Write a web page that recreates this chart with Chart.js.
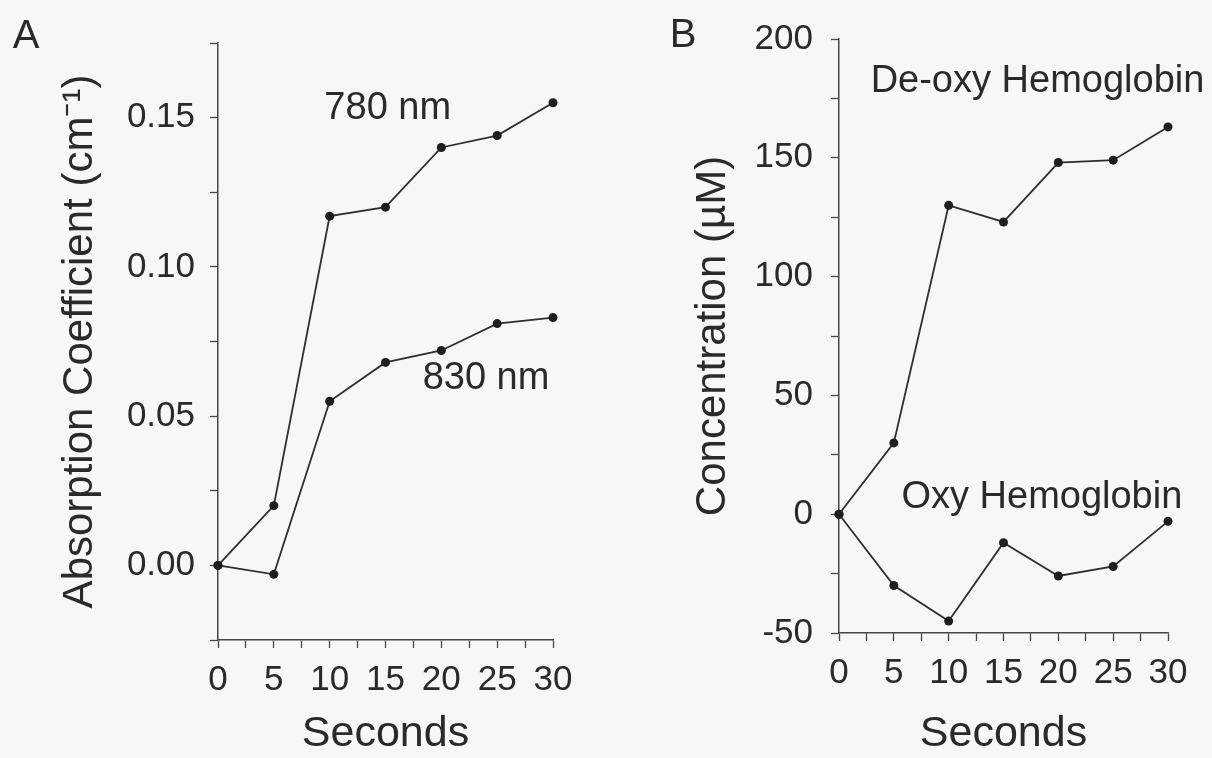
<!DOCTYPE html>
<html>
<head>
<meta charset="utf-8">
<script src="https://cdn.jsdelivr.net/npm/chart.js@4.4.1/dist/chart.umd.min.js"></script>
<style>
  html, body { margin: 0; padding: 0; background: #f7f7f5; }
  #wrap { position: relative; width: 1212px; height: 758px; }
  canvas { position: absolute; top: 0; }
  #chartA { left: 0; }
  #chartB { left: 606px; }
</style>
</head>
<body>
<div id="wrap">
  <canvas id="chartA" width="606" height="758"></canvas>
  <canvas id="chartB" width="606" height="758"></canvas>
</div>
<script>
// data
const seconds = [0, 5, 10, 15, 20, 25, 30];
const abs780 = [0, 0.020, 0.117, 0.120, 0.140, 0.144, 0.155];
const abs830 = [0, -0.003, 0.055, 0.068, 0.072, 0.081, 0.083];
const deoxyHb = [0, 30, 130, 123, 148, 149, 163];
const oxyHb = [0, -30, -45, -12, -26, -22, -3];

const xTickLabels = ['0', '5', '10', '15', '20', '25', '30'];
const yTickLabelsA = ['0.00', '0.05', '0.10', '0.15'];
const yTickLabelsB = ['-50', '0', '50', '100', '150', '200'];

const notesA = [{ text: '780 nm', x: 15.2, y: 0.153 }, { text: '830 nm', x: 24.0, y: 0.0626 }];
const notesB = [{ text: 'De-oxy Hemoglobin', x: 18.1, y: 182 }, { text: 'Oxy Hemoglobin', x: 18.5, y: 7 }];

const fam = '"Liberation Sans", Arial, Helvetica, sans-serif';
const ink = '#2a2a2a';
const axisCol = '#474747';

function pick(labels, v) {
  return labels.find(t => Math.abs(parseFloat(t) - v) < 1e-6) || '';
}

function series(vals) {
  return {
    data: seconds.map((s, i) => ({ x: s, y: vals[i] })),
    borderColor: '#2e2e2e',
    borderWidth: 1.8,
    pointRadius: 4.5,
    pointBackgroundColor: '#1e1e1e',
    pointBorderWidth: 0,
    tension: 0,
    clip: false
  };
}

// panel letter + curve labels
const panelText = {
  id: 'panelText',
  afterDatasetsDraw(chart, args, opts) {
    const ctx = chart.ctx;
    ctx.save();
    ctx.fillStyle = ink;
    ctx.textBaseline = 'middle';
    ctx.textAlign = 'center';
    ctx.font = '40px ' + fam;
    ctx.fillText(opts.letter, opts.lx, opts.ly);
    ctx.font = '38px ' + fam;
    opts.notes.forEach(n => {
      ctx.fillText(n.text, chart.scales.x.getPixelForValue(n.x), chart.scales.y.getPixelForValue(n.y));
    });
    ctx.restore();
  }
};

function makeChart(id, sets, p) {
  return new Chart(document.getElementById(id), {
    type: 'line',
    data: { datasets: sets },
    plugins: [panelText],
    options: {
      responsive: false,
      animation: false,
      layout: { padding: { top: p.top, right: p.right, left: 0, bottom: 0 } },
      plugins: {
        legend: { display: false },
        tooltip: { enabled: false },
        panelText: { letter: p.letter, lx: p.lx, ly: p.ly, notes: p.notes }
      },
      scales: {
        x: {
          type: 'linear',
          min: 0,
          max: 30,
          afterFit: s => { s.height = p.xh; },
          border: { display: true, color: axisCol, width: 1.5 },
          grid: { drawOnChartArea: false, drawTicks: true, tickLength: 8, tickColor: axisCol, tickWidth: 1.3 },
          ticks: {
            stepSize: 2.5, autoSkip: false, maxRotation: 0, minRotation: 0, padding: 11,
            color: ink, font: { family: fam, size: 35 },
            callback: v => pick(xTickLabels, v)
          },
          title: { display: true, text: 'Seconds', color: ink, font: { family: fam, size: 43 }, padding: { top: 0, bottom: -2 } }
        },
        y: {
          min: p.ymin,
          max: p.ymax,
          afterFit: s => { s.width = p.yw; },
          border: { display: true, color: axisCol, width: 1.5 },
          grid: { drawOnChartArea: false, drawTicks: true, tickLength: 8, tickColor: axisCol, tickWidth: 1.3 },
          ticks: {
            stepSize: p.step, autoSkip: false, padding: p.tpad,
            color: ink, font: { family: fam, size: 35 },
            callback: v => pick(p.ylabels, v)
          },
          title: { display: true, text: p.ytitle, color: ink, font: { family: fam, size: 42 }, padding: { top: p.titlePad, bottom: 0 } }
        }
      }
    }
  });
}

makeChart('chartA', [series(abs780), series(abs830)], {
  top: 43, right: 53, xh: 118, yw: 218,
  ymin: -0.025, ymax: 0.175, step: 0.025, tpad: 15, ylabels: yTickLabelsA,
  ytitle: 'Absorption Coefficient (cm\u207B\u00B9)', titlePad: 55,
  letter: 'A', lx: 26, ly: 37, notes: notesA
});

makeChart('chartB', [series(deoxyHb), series(oxyHb)], {
  top: 38, right: 44, xh: 125, yw: 233,
  ymin: -50, ymax: 200, step: 25, tpad: 18, ylabels: yTickLabelsB,
  ytitle: 'Concentration (\u00B5M)', titlePad: 82,
  letter: 'B', lx: 77, ly: 36, notes: notesB
});
</script>
</body>
</html>
